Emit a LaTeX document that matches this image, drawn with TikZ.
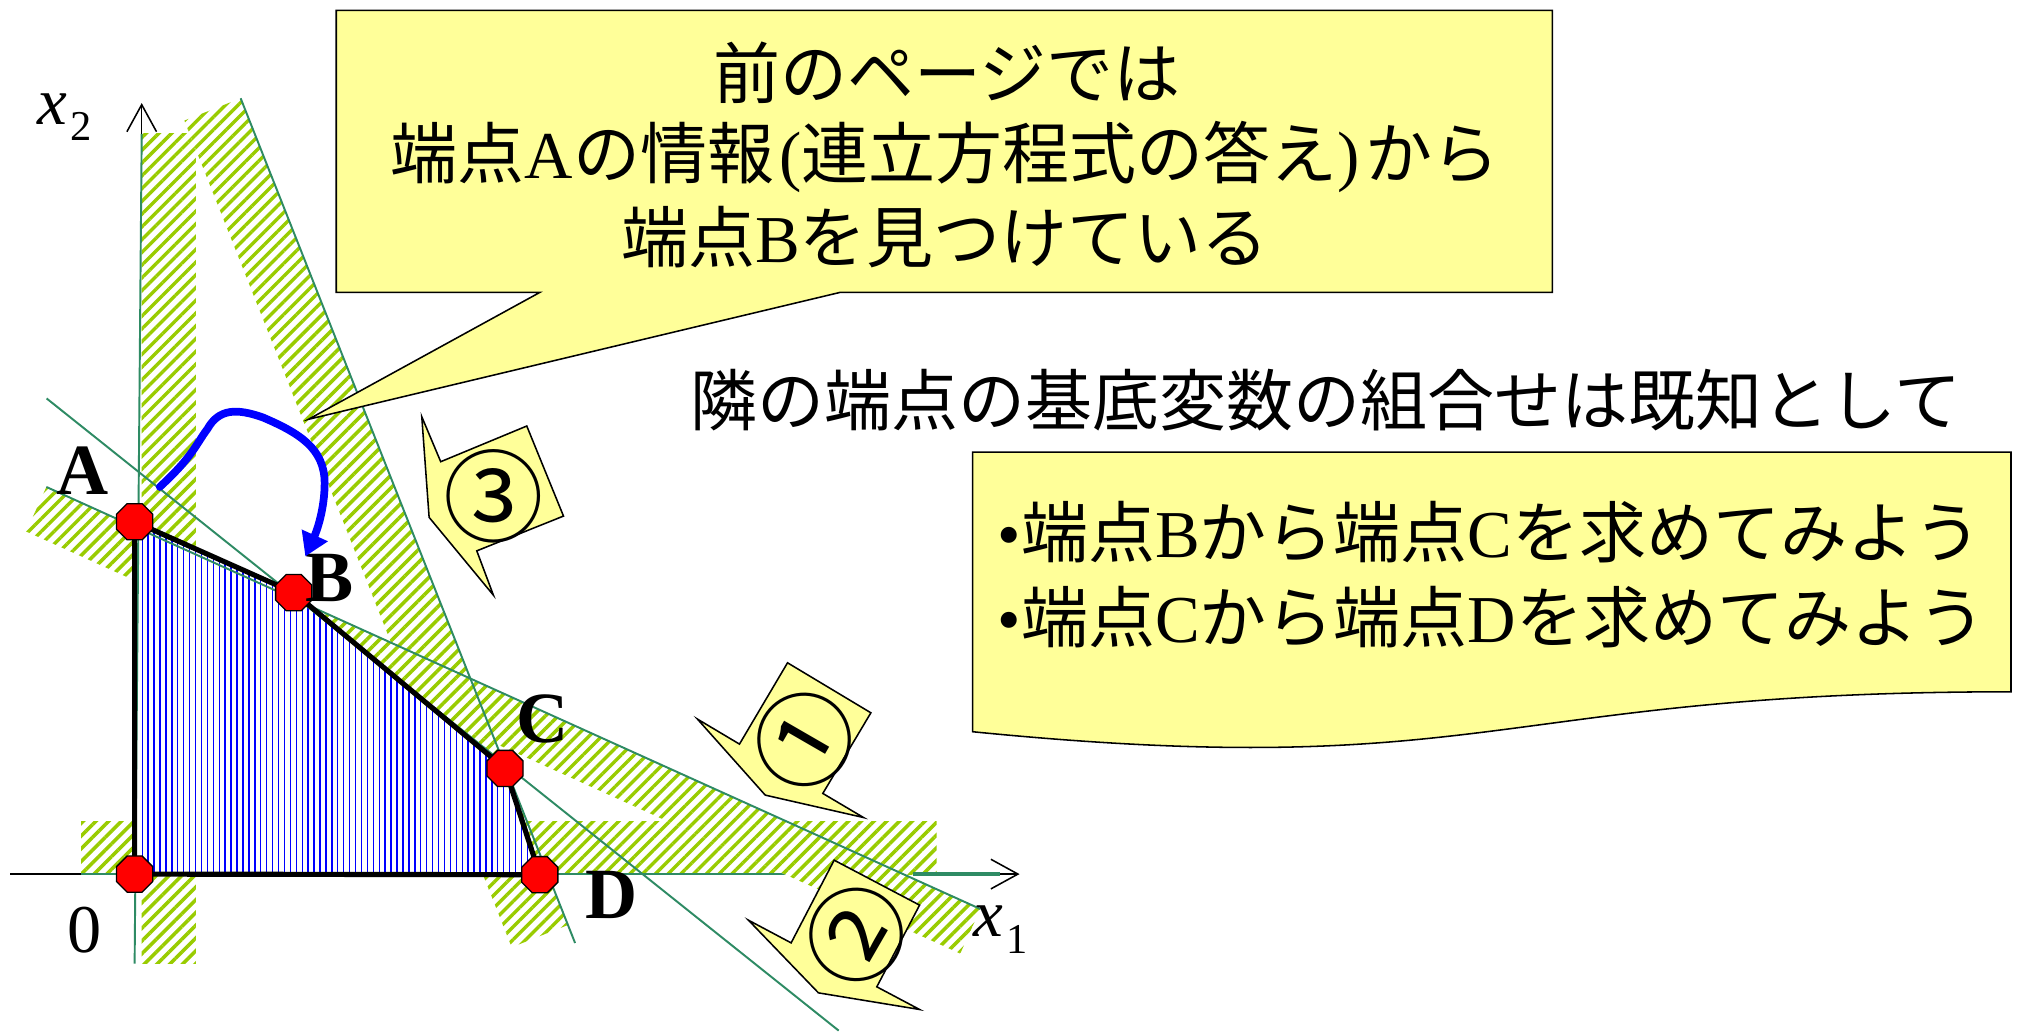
\documentclass[tikz,border=0pt]{standalone}
\usepackage{fontspec}
\setmainfont{Liberation Serif}
\newfontfamily\jp{Noto Sans CJK JP}
\usetikzlibrary{patterns.meta,arrows.meta,shapes.geometric}
\definecolor{hgreen}{RGB}{153,204,0}
\definecolor{lgreen}{RGB}{46,139,100}
\definecolor{cyellow}{RGB}{255,255,153}
\begin{document}
\begin{tikzpicture}[x=0.5pt,y=-0.5pt,
  hatchband/.style={fill=white, postaction={pattern={Lines[angle=45,distance=3.5pt,line width=1.35pt]}, pattern color=hgreen}},
  feas/.style={fill=white, postaction={pattern={Lines[angle=90,distance=2.3pt,line width=0.55pt]}, pattern color=blue}},
  cline/.style={draw=lgreen, line width=0.75pt},
  polyedge/.style={draw=black, line width=2pt, line join=round},
  vtx/.style={regular polygon, regular polygon sides=8, minimum size=15.2pt, inner sep=0pt, fill=red, draw=black, line width=0.5pt},
  vlab/.style={font=\fontsize{28}{28}\selectfont\bfseries, inner sep=0pt},
  calloutbox/.style={fill=cyellow, draw=black, line width=0.6pt, line join=miter},
  jtext/.style={font=\fontsize{26}{26}\selectfont\jp, inner sep=0pt},
  circnum/.style={font=\fontsize{39}{39}\selectfont\jp, inner sep=0pt},
  axisarrow/.style={draw=black, line width=0.6pt, -{Straight Barb[length=10.5pt,width=11.5pt]}}
]
\useasboundingbox (0,0) rectangle (1568,801);
\fill[white] (0,0) rectangle (1568,801);

% ---- hatched bands ----
\path[hatchband] (110,104) rectangle (152,748);
\path[hatchband] (186.8,76.3) -- (440.9,718) -- (397.2,735.3) -- (143.1,93.6) -- cycle;
\path[hatchband] (63,638) rectangle (727,678.5);

% ---- axes (parts under band 1) ----
\coordinate (x1L) at (8,678.5);
\coordinate (x1G) at (63,678.5);
\coordinate (x1H) at (611,678.5);
\coordinate (x1K) at (709,678.5);
\coordinate (x1M) at (776.4,678.5);
\coordinate (x1T) at (791.4,678.5);
\draw[black, line width=0.6pt] (x1L) -- (x1G);
\draw[cline] (x1G) -- (x1H);

\path[hatchband] (36,378) -- (761,705.6) -- (745.35,740.2) -- (20.35,412.6) -- cycle;

\draw[axisarrow] (x1K) -- (x1T);
\draw[draw=lgreen, line width=1.3pt] (x1K) -- (x1M);

% ---- feasible region ----
\coordinate (pO) at (104.5,678.5);
\coordinate (pA) at (104.5,405);
\coordinate (pB) at (228,460);
\coordinate (pC) at (392,596.5);
\coordinate (pD) at (419,679);
\path[feas] (pO) -- (pA) -- (pB) -- (pC) -- (pD) -- cycle;

% ---- constraint lines ----
\coordinate (l1a) at (36,378);   \coordinate (l1b) at (761,705.6);
\coordinate (l2a) at (36.2,309.3); \coordinate (l2b) at (651,800);
\coordinate (l3a) at (186.8,76.3); \coordinate (l3b) at (446.4,732);
\coordinate (x2B) at (104.5,748); \coordinate (x2G) at (110,104); \coordinate (x2T) at (110,80);
\draw[cline] (l1a) -- (l1b);
\draw[cline] (l2a) -- (l2b);
\draw[cline] (l3a) -- (l3b);
\draw[cline] (x2B) -- (x2G);
\draw[axisarrow] (x2G) -- (x2T);

% ---- polygon edges ----
\draw[polyedge] (pO) -- (pA) -- (pB) -- (pC) -- (pD) -- cycle;

% ---- vertices ----
\node[vtx] (vO) at (pO) {};
\node[vtx] (vA) at (pA) {};
\node[vtx] (vB) at (pB) {};
\node[vtx] (vC) at (pC) {};
\node[vtx] (vD) at (pD) {};

% ---- labels ----
\node[vlab] (labA) at (64,365.5) {A};
\node[vlab] (labB) at (256,449) {B};
\node[vlab] (labC) at (421,558) {C};
\node[vlab] (labD) at (475,695) {D};
\node[font=\fontsize{26.5}{26.5}\selectfont, inner sep=0pt] (lab0) at (66,722) {0};
\node[font=\fontsize{26}{26}\selectfont, inner sep=0pt, anchor=base west] (labx2) at (29,96.7) {\textit{x}\kern1pt\raisebox{-6.2pt}{\fontsize{16.5}{16.5}\selectfont 2}};
\node[font=\fontsize{26}{26}\selectfont, inner sep=0pt, anchor=base west] (labx1) at (755,726.7) {\textit{x}\kern1.5pt\raisebox{-6.7pt}{\fontsize{16.5}{16.5}\selectfont 1}};

% ---- blue curved arrow ----
\coordinate (arrS) at (124,378);
\coordinate (arrE) at (237,432);
\draw[blue, line width=3pt, line cap=round, -{Triangle[length=9pt,width=10.5pt]}]
  (arrS) .. controls (150,354) and (152,345) .. (161,333)
  .. controls (170,317) and (184,317) .. (204,324)
  .. controls (232,336) and (252,348) .. (252,375)
  .. controls (252,395) and (246,412) .. (arrE);

% ---- callouts 1,2,3 ----
\draw[calloutbox] (541.4,558.2) -- (574,577.6) -- (611.3,514.5) -- (676,553.3) -- (638.7,615.9) -- (670.3,634.6) -- (594,617.2) -- cycle;
\node[circnum, rotate=60] (n1) at (624.2,574) {①};
\draw[calloutbox] (581,714.3) -- (614.1,731.9) -- (647.5,667.7) -- (713.8,702.6) -- (680.6,766) -- (713.8,783.6) -- (635.3,770.7) -- cycle;
\node[circnum, rotate=60] (n2) at (664.6,726) {②};
\draw[calloutbox] (327.4,323.5) -- (342.1,358.4) -- (408.9,330.7) -- (437.4,400.6) -- (370.1,427.6) -- (383,462) -- (333.1,401.6) -- cycle;
\node[circnum] (n3) at (383.5,385.6) {③};

% ---- top callout ----
\draw[calloutbox] (261,8) -- (1205,8) -- (1205,227) -- (652,227) -- (239.4,325.5) -- (419,227) -- (261,227) -- cycle;
\node[jtext, anchor=base] (t1) at (735,76.3) {前のページでは};
\node[jtext, anchor=base] (t2) at (733.5,138.8) {端点{\rmfamily A}の情報{\rmfamily\kern2pt(}連立方程式の答え{\rmfamily )\kern2pt}から};
\node[jtext, anchor=base] (t3) at (733.5,203.8) {端点{\rmfamily B}を見つけている};

% ---- free text ----
\node[jtext, anchor=base] (t4) at (1029,330.3) {隣の端点の基底変数の組合せは既知として};

% ---- document box ----
\draw[calloutbox] (755,351) -- (1561,351) -- (1561,537) .. controls (1158,537) and (1158,608) .. (755,568) -- cycle;
\node[jtext, anchor=base west] (t5) at (774,432.4) {{\rmfamily •}端点{\rmfamily B}から端点{\rmfamily C}を求めてみよう};
\node[jtext, anchor=base west] (t6) at (774,498.6) {{\rmfamily •}端点{\rmfamily C}から端点{\rmfamily D}を求めてみよう};
\end{tikzpicture}
\end{document}
